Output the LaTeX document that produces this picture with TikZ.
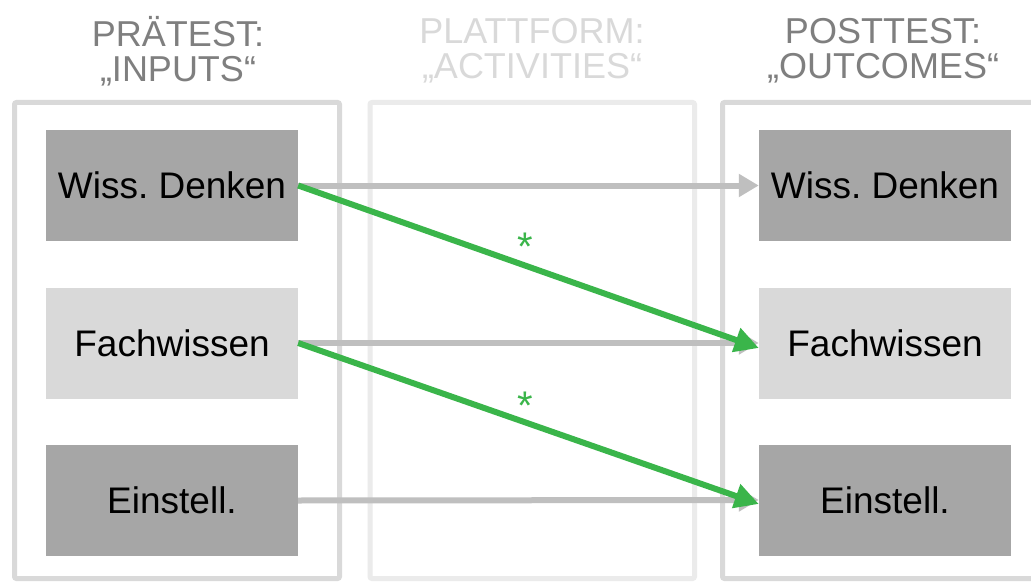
\documentclass[tikz,border=0pt]{standalone}
\usepackage{fontspec}
\setmainfont{Liberation Sans}
\usetikzlibrary{arrows.meta}
\definecolor{framegray}{HTML}{D9D9D9}
\definecolor{midframe}{HTML}{EBEBEB}
\definecolor{darkbox}{HTML}{A6A6A6}
\definecolor{lightbox}{HTML}{D9D9D9}
\definecolor{arrowgray}{HTML}{BFBFBF}
\definecolor{sigreen}{HTML}{3AB54A}
\definecolor{titlegray}{HTML}{7F7F7F}
\definecolor{titlelight}{HTML}{D9D9D9}
\frenchspacing
\begin{document}
\begin{tikzpicture}[x=1pt,y=-1pt,
  frame/.style={draw=framegray,line width=5pt,rounded corners=2pt},
  box/.style={minimum width=252pt,minimum height=111pt,inner sep=0pt,
    font=\fontsize{37}{40}\selectfont,text=black},
  darkb/.style={box,fill=darkbox},
  lightb/.style={box,fill=lightbox},
  title/.style={align=center,font=\fontsize{36}{35}\selectfont,text=titlegray},
  grayarrow/.style={draw=arrowgray,line width=6pt,-{Triangle[length=20pt,width=22pt]}},
  greenarrow/.style={draw=sigreen,line width=6pt,-{Triangle[length=24pt,width=24pt]}},
  star/.style={text=sigreen,font=\fontsize{40}{40}\selectfont}]
\useasboundingbox (0,0) rectangle (1031,583);
\clip (0,0) rectangle (1031,583);
\fill[white] (0,0) rectangle (1031,583);
% titles
\node[title] (t1) at (178,51) {PRÄTEST:\\„INPUTS“};
\node[title,text=titlelight] (t2) at (532,51) {PLATTFORM:\\„ACTIVITIES“};
\node[title] (t3) at (883,51) {POSTTEST:\\„OUTCOMES“};
% frames
\draw[frame] (14.5,102.5) rectangle (339.5,578.5);
\draw[frame,draw=midframe] (370,102.5) rectangle (694.5,578.5);
\draw[frame] (722.5,578.5) rectangle (1045,102.5);
% boxes
\node[darkb] (l1) at (172,185.5) {Wiss. Denken};
\node[lightb] (l2) at (172,343) {Fachwissen};
\node[darkb] (l3) at (172,500.5) {Einstell.};
\node[darkb] (r1) at (885,185.5) {Wiss. Denken};
\node[lightb] (r2) at (885,343) {Fachwissen};
\node[darkb] (r3) at (885,500) {Einstell.};
% gray arrows
\draw[grayarrow] (l1.east) -- (r1.west);
\draw[grayarrow] (l2.east) -- (r2.west);
\draw[grayarrow] (l3.east) -- (r3.west);
% green arrows
\draw[greenarrow] (l1.east) -- ([yshift=-5pt]r2.west);
\draw[greenarrow] (l2.east) -- ([yshift=-4pt]r3.west);
% stars
\node[star] (s1) at (525,247) {*};
\node[star] (s2) at (525,406) {*};
\end{tikzpicture}
\end{document}
